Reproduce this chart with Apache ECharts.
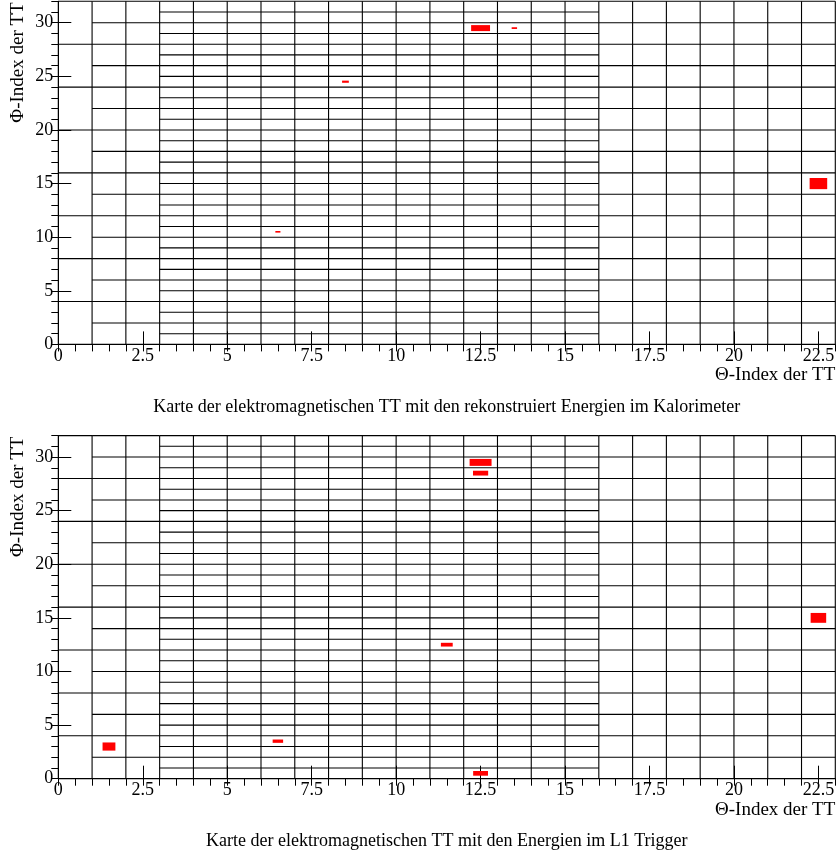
<!DOCTYPE html>
<html>
<head>
<meta charset="utf-8">
<script src="https://cdn.jsdelivr.net/npm/echarts@6/dist/echarts.min.js"></script>
<style>
  html, body { margin: 0; padding: 0; background: #fff; }
  #chart { width: 839px; height: 859px; }
</style>
</head>
<body>
<div id="chart"></div>
<script>
// Trigger-tower binning: theta columns [from, to] and the phi bin width used inside them
const thetaBands = [
  [0, 1, 4],
  [1, 3, 2],
  [3, 16, 1],
  [16, 23, 2]
];
const thetaRange = [0, 23];
const phiRange = [0, 32];

// Hits: [theta bin low edge, phi bin low edge, relative content]
const caloHits = [
  [12, 29, 0.56],
  [13, 29, 0.16],
  [8, 24, 0.20],
  [6, 10, 0.15],
  [22, 14, 0.52]
];
const l1Hits = [
  [12, 29, 0.65],
  [12, 28, 0.45],
  [11, 12, 0.35],
  [12, 0, 0.44],
  [1, 2, 0.38],
  [6, 3, 0.31],
  [22, 14, 0.46]
];

const xTitle = 'Θ-Index der TT';
const yTitle = 'Φ-Index der TT';
const captions = [
  'Karte der elektromagnetischen TT mit den rekonstruiert Energien im Kalorimeter',
  'Karte der elektromagnetischen TT mit den Energien im L1 Trigger'
];

// Build the cell boundary segments from the binning
function buildSegments() {
  const segs = [];
  const vSeen = new Set();
  thetaBands.forEach(([lo, hi, dphi]) => {
    for (let y = phiRange[0]; y <= phiRange[1]; y += dphi) {
      segs.push([lo, y, hi, y]);
    }
    for (let x = lo; x <= hi; x += 1) {
      if (!vSeen.has(x)) {
        vSeen.add(x);
        segs.push([x, phiRange[0], x, phiRange[1]]);
      }
    }
  });
  return segs;
}
const segments = buildSegments();

function bandOf(theta) {
  return thetaBands.find(b => theta >= b[0] && theta < b[1]);
}

const FONT = 'Liberation Serif';

function gridLineSeries(idx) {
  return {
    type: 'custom',
    xAxisIndex: idx * 2,
    yAxisIndex: idx * 2,
    silent: true,
    z: 2,
    data: segments,
    renderItem: function (params, api) {
      const p1 = api.coord([api.value(0), api.value(1)]);
      const p2 = api.coord([api.value(2), api.value(3)]);
      return {
        type: 'line',
        shape: { x1: p1[0], y1: p1[1], x2: p2[0], y2: p2[1] },
        style: { stroke: '#000', lineWidth: 1.1 }
      };
    }
  };
}

function boxSeries(idx, hits) {
  return {
    type: 'custom',
    xAxisIndex: idx * 2,
    yAxisIndex: idx * 2,
    z: 5,
    data: hits,
    renderItem: function (params, api) {
      const theta = api.value(0), phi = api.value(1), c = api.value(2);
      const band = bandOf(theta);
      const h = band[2];
      const cx = theta + 0.5, cy = phi + h / 2;
      const a = api.coord([cx - c * 0.5, cy + c * h / 2]);
      const b = api.coord([cx + c * 0.5, cy - c * h / 2]);
      return {
        type: 'rect',
        shape: { x: a[0], y: a[1], width: b[0] - a[0], height: b[1] - a[1] },
        style: { fill: '#ff0000', stroke: null }
      };
    }
  };
}

function majorX(gi) {
  return {
    type: 'value', gridIndex: gi, min: thetaRange[0], max: thetaRange[1], interval: 2.5,
    axisLine: { show: true, lineStyle: { color: '#000', width: 1 } },
    axisTick: { show: true, inside: true, length: 13, lineStyle: { color: '#000' } },
    axisLabel: { show: true, fontFamily: FONT, fontSize: 18, color: '#000', margin: 3, showMaxLabel: false },
    splitLine: { show: false }
  };
}
function minorX(gi) {
  return {
    type: 'value', gridIndex: gi, min: thetaRange[0], max: thetaRange[1], interval: 0.5,
    axisLine: { show: false },
    axisTick: { show: true, inside: true, length: 7, lineStyle: { color: '#000' } },
    axisLabel: { show: false },
    splitLine: { show: false }
  };
}
function majorY(gi) {
  return {
    type: 'value', gridIndex: gi, min: phiRange[0], max: phiRange[1], interval: 5,
    axisLine: { show: true, lineStyle: { color: '#000', width: 1 } },
    axisTick: { show: true, inside: true, length: 13, lineStyle: { color: '#000' } },
    axisLabel: { show: true, fontFamily: FONT, fontSize: 18, color: '#000', margin: 5, showMaxLabel: false },
    splitLine: { show: false }
  };
}
function minorY(gi) {
  return {
    type: 'value', gridIndex: gi, min: phiRange[0], max: phiRange[1], interval: 1,
    axisLine: { show: false },
    axisTick: { show: true, inside: true, length: 7, lineStyle: { color: '#000' } },
    axisLabel: { show: false },
    splitLine: { show: false }
  };
}

const panelTops = [1.3, 435.6];
const panelH = 343.1;
const plotLeft = 58.3, plotW = 777;

const graphics = [];
panelTops.forEach((top, i) => {
  const bottom = top + panelH;
  graphics.push({
    type: 'text', x: plotLeft + plotW, y: bottom + 31,
    style: { text: xTitle, font: '19px "' + FONT + '"', fill: '#000', textAlign: 'right', textVerticalAlign: 'middle' }
  });
  graphics.push({
    type: 'text', x: 18, y: top + 1, rotation: Math.PI / 2,
    style: { text: yTitle, font: '19px "' + FONT + '"', fill: '#000', textAlign: 'right', textVerticalAlign: 'middle' }
  });
  graphics.push({
    type: 'text', x: plotLeft + plotW / 2, y: bottom + 63,
    style: { text: captions[i], font: '18px "' + FONT + '"', fill: '#000', textAlign: 'center', textVerticalAlign: 'middle' }
  });
});

const chart = echarts.init(document.getElementById('chart'), null, { renderer: 'canvas' });
chart.setOption({
  animation: false,
  backgroundColor: '#fff',
  grid: panelTops.map(t => ({ left: plotLeft, top: t, width: plotW, height: panelH, show: false })),
  xAxis: [majorX(0), minorX(0), majorX(1), minorX(1)],
  yAxis: [majorY(0), minorY(0), majorY(1), minorY(1)],
  series: [
    gridLineSeries(0), boxSeries(0, caloHits),
    gridLineSeries(1), boxSeries(1, l1Hits),
    // bind the minor-tick axes so they render
    { type: 'scatter', xAxisIndex: 1, yAxisIndex: 1, data: [], silent: true },
    { type: 'scatter', xAxisIndex: 3, yAxisIndex: 3, data: [], silent: true }
  ],
  graphic: graphics
});
</script>
</body>
</html>
